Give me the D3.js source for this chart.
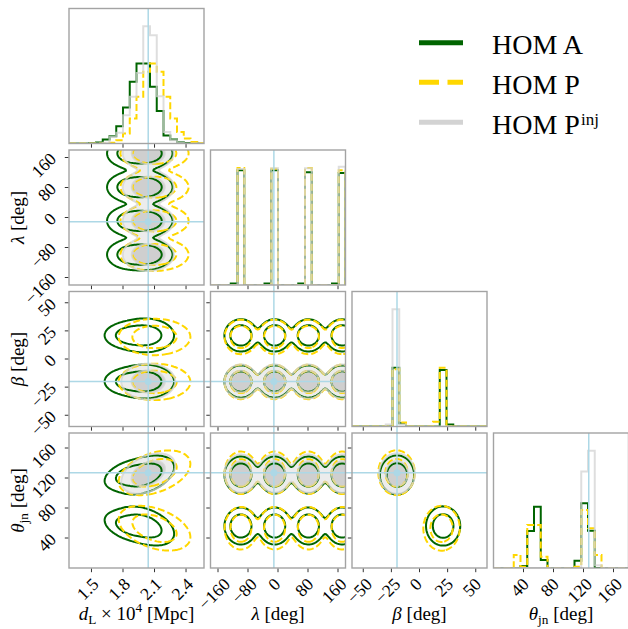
<!DOCTYPE html>
<html>
<head>
<meta charset="utf-8">
<script src="https://cdn.jsdelivr.net/npm/d3@7"></script>
<style>
html, body { margin: 0; padding: 0; background: #fff; }
svg { display: block; font-family: "Liberation Serif", "Times New Roman", serif; }
</style>
</head>
<body>
<svg id="chart" width="628" height="629"></svg>
<script>
// ---------- parameter axes ----------
const paramRanges = [[1.286, 2.571], [-180, 180], [-60, 60], [0, 180]];
const truthValues = [2.04, -11, -20, 127];
const tickValues = [[1.5, 1.8, 2.1, 2.4], [-160, -80, 0, 80, 160], [-50, -25, 0, 25, 50], [40, 80, 120, 160]];
const tickLabels = [["1.5", "1.8", "2.1", "2.4"], ["\u2212160", "\u221280", "0", "80", "160"],
                    ["\u221250", "\u221225", "0", "25", "50"], ["40", "80", "120", "160"]];
const nBins = 20;

// ---------- 1D histograms (percent of panel height, 20 bins per parameter) ----------
const histA_dL = [0, 0, 0, 0.3, 0.7, 3, 5.4, 12.8, 26.7, 45.7, 59.3, 59.3, 42, 24, 6, 3, 1, 0.3, 0, 0];
const histP_dL = [0, 0, 0, 0, 0, 0, 0.5, 2.5, 7.4, 18.5, 34.6, 53.1, 59.3, 53.1, 34.6, 18.5, 8.6, 3.7, 1.2, 0.3];
const histI_dL = [0, 0, 0, 0, 0, 0.5, 5, 8, 21, 34.6, 52.3, 86.9, 80.2, 35, 8.6, 2.5, 0.7, 0, 0, 0];

const histA_lambda = [0, 0, 0, 1.2, 85, 0, 0, 0, 1.2, 85, 0, 0, 0, 1.2, 83.6, 0, 0, 0, 1.2, 83];
const histP_lambda = [0, 0, 0, 0, 86.6, 0, 0, 0, 0, 86.1, 0, 0, 0, 0, 86.6, 0, 0, 0, 0, 85];
const histI_lambda = [0, 0, 0, 0, 85.9, 0, 0, 0, 0, 86.4, 0, 0, 0, 0, 86.4, 0, 0, 0, 0, 87.6];

const histA_beta = [0, 0, 0, 0, 0, 0, 43.6, 2.5, 0, 0, 0, 0, 0, 41.9, 1.5, 0, 0, 0, 0, 0];
const histP_beta = [0, 0, 0, 0, 0, 0, 42.5, 3, 0, 0, 0, 0, 3.5, 43.5, 0, 0, 0, 0, 0, 0];
const histI_beta = [0, 0, 0, 0, 0, 1.5, 86.8, 1.5, 0, 0, 0, 0, 0, 0, 0, 0, 0, 0, 0, 0];

const histA_theta = [0, 0, 0, 0, 1.5, 27.4, 45.4, 5.9, 0, 0, 0, 0, 5.4, 47.9, 27.6, 0, 0, 0, 0, 0];
const histP_theta = [0, 0, 0, 9.6, 1, 31.9, 31.9, 8.4, 0, 0, 0, 0, 1, 43, 29.4, 9.6, 0, 0, 0, 0];
const histI_theta = [0, 0, 0, 0, 0, 0, 0, 0, 0, 0, 0, 0, 0, 71.4, 86.9, 2, 0, 0, 0, 0];

// ---------- 2D posterior modes (smoothed widths per parameter) ----------
const lambdaPeaks = [-99, -9, 81, 171];

// HOM A: distance has a main peak plus a lower-distance shoulder
const dLCentreA = [2.01, 1.84];
const dLWeightA = [0.7, 0.3];
const dLWidthA = [0.12, 0.1];
const dLShrinkA = [1, 0.78];            // narrower angles on the shoulder
const modeBetaA = [-20, 21];
const modeThetaA = [124, 56];
const modeWeightA = [0.5, 0.5];
const modeRhoA = [0.4, -0.4];           // dL–theta correlation of each mode
const widthA = [18.7, 6.5, 11.2];       // lambda, beta, theta

const dLCentreP = [2.10];
const dLWeightP = [1];
const dLWidthP = [0.14];
const dLShrinkP = [1];
const modeBetaP = [-20.4, 19.6];
const modeThetaP = [127, 53];
const modeWeightP = [0.5, 0.5];
const modeRhoP = [0.4, -0.4];
const widthP = [18.7, 6.6, 12.2];

const dLCentreI = [2.04];
const dLWeightI = [1];
const dLWidthI = [0.105];
const dLShrinkI = [1];
const modeBetaI = [-20];
const modeThetaI = [126];
const modeWeightI = [1];
const modeRhoI = [0.4];
const widthI = [18.7, 6.5, 11];

const contourLevels = [0.68, 0.95];

// ---------- series styling ----------
const seriesColors = ["#006400", "#ffd700", "#d3d3d3"];
const seriesDash = [null, "7,3", null];
const seriesOpacity = [1, 1, 0.75];

// ---------- layout ----------
const gridLeft = 69, gridTop = 8.5, panelSize = 135, panelStep = 141.5;
const nDim = 4;
const svg = d3.select("#chart");

const colX = c => gridLeft + c * panelStep;
const rowY = r => gridTop + r * panelStep;
const xScaleFor = c => d3.scaleLinear().domain(paramRanges[c]).range([colX(c), colX(c) + panelSize]);
const yScaleFor = r => d3.scaleLinear().domain(paramRanges[r]).range([rowY(r) + panelSize, rowY(r)]);
const hScaleFor = r => d3.scaleLinear().domain([0, 100]).range([rowY(r) + panelSize, rowY(r)]);

function buildModes(dLc, dLw, dLsd, dLshrink, betas, thetas, weights, rhos, widths) {
  const out = [];
  dLc.forEach((dc, q) => {
    betas.forEach((b, k) => {
      lambdaPeaks.forEach(l => {
        out.push({
          w: dLw[q] * weights[k] / lambdaPeaks.length,
          mean: [dc, l, b, thetas[k]],
          sd: [dLsd[q], widths[0], widths[1] * dLshrink[q], widths[2] * dLshrink[q]],
          rho: rhos[k]
        });
      });
    });
  });
  return out;
}
const seriesModes = [
  buildModes(dLCentreA, dLWeightA, dLWidthA, dLShrinkA, modeBetaA, modeThetaA, modeWeightA, modeRhoA, widthA),
  buildModes(dLCentreP, dLWeightP, dLWidthP, dLShrinkP, modeBetaP, modeThetaP, modeWeightP, modeRhoP, widthP),
  buildModes(dLCentreI, dLWeightI, dLWidthI, dLShrinkI, modeBetaI, modeThetaI, modeWeightI, modeRhoI, widthI)
];
const seriesHists = [
  [histA_dL, histA_lambda, histA_beta, histA_theta],
  [histP_dL, histP_lambda, histP_beta, histP_theta],
  [histI_dL, histI_lambda, histI_beta, histI_theta]
];

// ---------- density grid for a pair of parameters ----------
const NG = 120, EXT = 0.12;
function panelDensity(modes, px, py) {
  const [xa, xb] = paramRanges[px], [ya, yb] = paramRanges[py];
  const gx0 = xa - EXT * (xb - xa), gx1 = xb + EXT * (xb - xa);
  const gy0 = ya - EXT * (yb - ya), gy1 = yb + EXT * (yb - ya);
  const vals = new Array(NG * NG), inside = [];
  for (let j = 0; j < NG; j++) {
    const yv = gy1 - (j + 0.5) * (gy1 - gy0) / NG;
    for (let i = 0; i < NG; i++) {
      const xv = gx0 + (i + 0.5) * (gx1 - gx0) / NG;
      let s = 0;
      for (const m of modes) {
        const zx = (xv - m.mean[px]) / m.sd[px], zy = (yv - m.mean[py]) / m.sd[py];
        const r = (px === 0 && py === 3) ? m.rho : 0;
        s += m.w * Math.exp(-(zx * zx - 2 * r * zx * zy + zy * zy) / (2 * (1 - r * r))) /
             (m.sd[px] * m.sd[py] * Math.sqrt(1 - r * r));
      }
      vals[i + j * NG] = s;
      if (xv >= xa && xv <= xb && yv >= ya && yv <= yb) inside.push(s);
    }
  }
  return { vals, inside, gx: [gx0, gx1], gy: [gy0, gy1] };
}
function massThresholds(inside, fracs) {
  const sorted = inside.slice().sort((a, b) => b - a);
  const total = d3.sum(sorted);
  return fracs.map(f => {
    let cum = 0;
    for (let k = 0; k < sorted.length; k++) {
      cum += sorted[k];
      if (cum >= f * total) return sorted[k];
    }
    return sorted[sorted.length - 1];
  });
}

const defs = svg.append("defs");
const plotLayer = svg.append("g");
const truthLayer = svg.append("g");
const frameLayer = svg.append("g");

// ---------- panels ----------
for (let r = 0; r < nDim; r++) {
  for (let c = 0; c <= r; c++) {
    const clipId = `clip-${r}-${c}`;
    defs.append("clipPath").attr("id", clipId).append("rect")
      .attr("x", colX(c)).attr("y", rowY(r)).attr("width", panelSize).attr("height", panelSize);
    const g = plotLayer.append("g").attr("clip-path", `url(#${clipId})`);
    const xs = xScaleFor(c);

    if (r === c) {
      // 1D histogram, step outline
      const hs = hScaleFor(r);
      const edges = d3.range(nBins + 1).map(k => paramRanges[c][0] + k * (paramRanges[c][1] - paramRanges[c][0]) / nBins);
      seriesHists.forEach((hists, s) => {
        const h = hists[c];
        const pts = [[edges[0], 0]];
        h.forEach((v, k) => { pts.push([edges[k], v]); pts.push([edges[k + 1], v]); });
        pts.push([edges[nBins], 0]);
        g.append("path")
          .attr("d", d3.line().x(d => xs(d[0])).y(d => hs(d[1]))(pts))
          .attr("fill", "none")
          .attr("stroke", seriesColors[s])
          .attr("stroke-width", 2)
          .attr("stroke-opacity", seriesOpacity[s])
          .attr("stroke-dasharray", seriesDash[s]);
      });
    } else {
      const ys = yScaleFor(r);
      const dens = seriesModes.map(m => panelDensity(m, c, r));
      const gridPath = d => {
        const gxs = d3.scaleLinear().domain([0, NG]).range([xs(d.gx[0]), xs(d.gx[1])]);
        const gys = d3.scaleLinear().domain([0, NG]).range([ys(d.gy[1]), ys(d.gy[0])]);
        return d3.geoPath(d3.geoTransform({
          point(x, y) { this.stream.point(gxs(x), gys(y)); }
        }));
      };
      const contoursOf = d => {
        const th = massThresholds(d.inside, contourLevels); // [t68, t95]
        return d3.contours().size([NG, NG]).thresholds([th[1], th[0]])(d.vals);
      };
      // injected-signal posterior: filled regions underneath
      const injC = contoursOf(dens[2]);
      const injPath = gridPath(dens[2]);
      g.append("path").attr("d", injPath(injC[0])).attr("fill", "#ececec");
      g.append("path").attr("d", injPath(injC[1])).attr("fill", "#cfcfcf");
      // line contours
      [0, 1, 2].forEach(s => {
        const cs = s === 2 ? injC : contoursOf(dens[s]);
        const p = gridPath(dens[s]);
        cs.forEach(cc => {
          g.append("path").attr("d", p(cc))
            .attr("fill", "none")
            .attr("stroke", seriesColors[s])
            .attr("stroke-width", 2)
            .attr("stroke-opacity", seriesOpacity[s])
            .attr("stroke-dasharray", seriesDash[s])
            .attr("stroke-linejoin", "round");
        });
      });
    }
  }
}

// ---------- truth lines and markers ----------
const truthColor = "#add8e6";
for (let c = 0; c < nDim; c++) {
  const x = xScaleFor(c)(truthValues[c]);
  truthLayer.append("line").attr("x1", x).attr("x2", x)
    .attr("y1", rowY(c)).attr("y2", rowY(nDim - 1) + panelSize)
    .attr("stroke", truthColor).attr("stroke-width", 1.5);
}
for (let r = 1; r < nDim; r++) {
  const y = yScaleFor(r)(truthValues[r]);
  truthLayer.append("line").attr("x1", colX(0)).attr("x2", colX(r - 1) + panelSize)
    .attr("y1", y).attr("y2", y)
    .attr("stroke", truthColor).attr("stroke-width", 1.5);
  for (let c = 0; c < r; c++) {
    truthLayer.append("circle").attr("cx", xScaleFor(c)(truthValues[c])).attr("cy", y)
      .attr("r", 3.5).attr("fill", truthColor);
  }
}

// ---------- frames, ticks, tick labels ----------
const tickLen = 3.5, tickPad = 9, tickFont = 17.5;
function placeRotated(sel, px, py, ha, va, fs) {
  const w = sel.node().getComputedTextLength();
  const hgt = 0.9 * fs, dsc = 0.22 * fs, c = Math.SQRT1_2;
  const corners = [[0, -(hgt - dsc)], [w, -(hgt - dsc)], [w, dsc], [0, dsc]]
    .map(([x, y]) => [c * x + c * y, -c * x + c * y]);
  const minX = d3.min(corners, d => d[0]), maxX = d3.max(corners, d => d[0]);
  const minY = d3.min(corners, d => d[1]);
  const tx = ha === "center" ? px - (minX + maxX) / 2 : px - maxX;
  const ty = va === "top" ? py - minY : (py - (hgt - dsc) / 2) - minY;
  sel.attr("transform", `translate(${tx},${ty}) rotate(-45)`);
}

for (let r = 0; r < nDim; r++) {
  for (let c = 0; c <= r; c++) {
    const x0 = colX(c), y0 = rowY(r);
    const xs = xScaleFor(c);
    frameLayer.append("rect").attr("x", x0).attr("y", y0)
      .attr("width", panelSize).attr("height", panelSize)
      .attr("fill", "none").attr("stroke", "#a3a3a3").attr("stroke-width", 1.4);
    tickValues[c].forEach((v, k) => {
      const x = xs(v);
      frameLayer.append("line").attr("x1", x).attr("x2", x)
        .attr("y1", y0 + panelSize + 0.7).attr("y2", y0 + panelSize + 0.7 + tickLen)
        .attr("stroke", "#333").attr("stroke-width", 1);
      if (r === nDim - 1) {
        const t = frameLayer.append("text").attr("font-size", tickFont).attr("fill", "#000")
          .text(tickLabels[c][k]);
        placeRotated(t, x - 2.5, y0 + panelSize + tickPad, "center", "top", tickFont);
      }
    });
    if (c < r) {
      const ys = yScaleFor(r);
      tickValues[r].forEach((v, k) => {
        const y = ys(v);
        frameLayer.append("line").attr("x1", x0 - 0.7).attr("x2", x0 - 0.7 - tickLen)
          .attr("y1", y).attr("y2", y).attr("stroke", "#333").attr("stroke-width", 1);
        if (c === 0) {
          const t = frameLayer.append("text").attr("font-size", tickFont).attr("fill", "#000")
            .text(tickLabels[r][k]);
          placeRotated(t, x0 - tickPad, y, "right", "center_baseline", tickFont);
        }
      });
    }
  }
}

// ---------- axis labels ----------
const labelFont = 19;
const axisLabelParts = [
  [{ t: "d", it: true }, { t: "L", sub: true }, { t: " \u00d7 10" }, { t: "4", sup: true }, { t: " [Mpc]" }],
  [{ t: "\u03bb", it: true }, { t: " [deg]" }],
  [{ t: "\u03b2", it: true }, { t: " [deg]" }],
  [{ t: "\u03b8", it: true }, { t: "jn", sub: true }, { t: " [deg]" }]
];
// rich text: each part carries its own vertical offset relative to the baseline
function richText(sel, parts, fs) {
  let shift = 0;
  parts.forEach(p => {
    const target = p.sub ? fs * 0.22 : p.sup ? -fs * 0.42 : 0;
    const ts = sel.append("tspan").text(p.t);
    if (target !== shift) ts.attr("dy", target - shift);
    shift = target;
    if (p.it) ts.attr("font-style", "italic");
    if (p.sub || p.sup) ts.attr("font-size", fs * 0.7);
  });
}
for (let c = 0; c < nDim; c++) {
  const t = frameLayer.append("text").attr("font-size", labelFont).attr("text-anchor", "middle")
    .attr("x", colX(c) + panelSize / 2).attr("y", 620);
  richText(t, axisLabelParts[c], labelFont);
}
for (let r = 1; r < nDim; r++) {
  const cy = rowY(r) + panelSize / 2;
  const t = frameLayer.append("text").attr("font-size", labelFont).attr("text-anchor", "middle")
    .attr("transform", `translate(23.5,${cy}) rotate(-90)`);
  richText(t, axisLabelParts[r], labelFont);
}

// ---------- legend ----------
const legendNames = [[{ t: "HOM A" }], [{ t: "HOM P" }], [{ t: "HOM P" }, { t: "inj", sup: true }]];
const legendY = [42.7, 82.3, 122.3];
const legend = svg.append("g");
legendNames.forEach((parts, s) => {
  legend.append("line").attr("x1", 419).attr("x2", 463)
    .attr("y1", legendY[s]).attr("y2", legendY[s])
    .attr("stroke", seriesColors[s]).attr("stroke-width", 5)
    .attr("stroke-dasharray", s === 1 ? "20,8.5" : null);
  const t = legend.append("text").attr("x", 492).attr("y", legendY[s] + 11.2).attr("font-size", 28);
  parts.forEach(p => {
    const ts = t.append("tspan").text(p.t);
    if (p.sup) ts.attr("font-size", 17).attr("dy", -8.5).attr("dx", 1);
  });
});
</script>
</body>
</html>
